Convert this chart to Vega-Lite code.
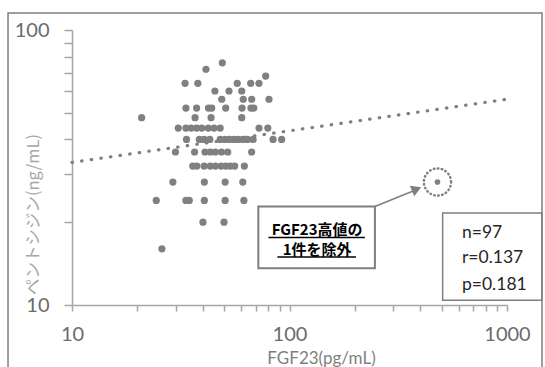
{
  "$schema": "https://vega.github.io/schema/vega-lite/v6.json",
  "width": 435,
  "height": 275,
  "autosize": {"type": "none"},
  "padding": {"left": 72, "top": 30, "right": 38, "bottom": 62},
  "background": "white",
  "config": {"view": {"stroke": null}},
  "datasets": {
    "points": [
      {"fgf23": 49.1, "pentosidine": 76},
      {"fgf23": 41.3, "pentosidine": 72},
      {"fgf23": 77.7, "pentosidine": 68},
      {"fgf23": 33.1, "pentosidine": 64}, {"fgf23": 37.9, "pentosidine": 64}, {"fgf23": 57.5, "pentosidine": 64}, {"fgf23": 66.3, "pentosidine": 64}, {"fgf23": 72.4, "pentosidine": 64},
      {"fgf23": 45.4, "pentosidine": 60}, {"fgf23": 52.7, "pentosidine": 60}, {"fgf23": 60.3, "pentosidine": 60},
      {"fgf23": 48.8, "pentosidine": 56}, {"fgf23": 61.3, "pentosidine": 56}, {"fgf23": 67, "pentosidine": 56}, {"fgf23": 80.5, "pentosidine": 56},
      {"fgf23": 33.4, "pentosidine": 52}, {"fgf23": 37.4, "pentosidine": 52}, {"fgf23": 42.4, "pentosidine": 52}, {"fgf23": 43.9, "pentosidine": 52}, {"fgf23": 50.9, "pentosidine": 52}, {"fgf23": 60.5, "pentosidine": 52}, {"fgf23": 66.5, "pentosidine": 52}, {"fgf23": 68.5, "pentosidine": 52},
      {"fgf23": 20.9, "pentosidine": 48}, {"fgf23": 36.8, "pentosidine": 48}, {"fgf23": 43.6, "pentosidine": 48}, {"fgf23": 60.3, "pentosidine": 48},
      {"fgf23": 30.8, "pentosidine": 44}, {"fgf23": 33.4, "pentosidine": 44}, {"fgf23": 35.3, "pentosidine": 44}, {"fgf23": 37.4, "pentosidine": 44}, {"fgf23": 39.5, "pentosidine": 44}, {"fgf23": 42.3, "pentosidine": 44}, {"fgf23": 45, "pentosidine": 44}, {"fgf23": 48, "pentosidine": 44}, {"fgf23": 72.4, "pentosidine": 44}, {"fgf23": 79.5, "pentosidine": 44},
      {"fgf23": 33.6, "pentosidine": 40}, {"fgf23": 38.5, "pentosidine": 40}, {"fgf23": 40.5, "pentosidine": 40}, {"fgf23": 43, "pentosidine": 40}, {"fgf23": 48, "pentosidine": 40}, {"fgf23": 50.5, "pentosidine": 40}, {"fgf23": 53, "pentosidine": 40}, {"fgf23": 55.5, "pentosidine": 40}, {"fgf23": 58, "pentosidine": 40}, {"fgf23": 61, "pentosidine": 40}, {"fgf23": 64, "pentosidine": 40}, {"fgf23": 68, "pentosidine": 40}, {"fgf23": 84, "pentosidine": 40}, {"fgf23": 92, "pentosidine": 40},
      {"fgf23": 29.9, "pentosidine": 36}, {"fgf23": 36.6, "pentosidine": 36}, {"fgf23": 40.9, "pentosidine": 36}, {"fgf23": 43.2, "pentosidine": 36}, {"fgf23": 45.6, "pentosidine": 36}, {"fgf23": 48.7, "pentosidine": 36}, {"fgf23": 52, "pentosidine": 36}, {"fgf23": 67, "pentosidine": 36},
      {"fgf23": 35.9, "pentosidine": 32}, {"fgf23": 37.5, "pentosidine": 32}, {"fgf23": 40.5, "pentosidine": 32}, {"fgf23": 43.2, "pentosidine": 32}, {"fgf23": 45.6, "pentosidine": 32}, {"fgf23": 48.5, "pentosidine": 32}, {"fgf23": 51, "pentosidine": 32}, {"fgf23": 53.5, "pentosidine": 32}, {"fgf23": 56, "pentosidine": 32}, {"fgf23": 62, "pentosidine": 32},
      {"fgf23": 29.1, "pentosidine": 28}, {"fgf23": 40.6, "pentosidine": 28}, {"fgf23": 50.6, "pentosidine": 28}, {"fgf23": 61, "pentosidine": 28},
      {"fgf23": 24.4, "pentosidine": 24}, {"fgf23": 33.4, "pentosidine": 24}, {"fgf23": 34.6, "pentosidine": 24}, {"fgf23": 40.6, "pentosidine": 24}, {"fgf23": 50.6, "pentosidine": 24}, {"fgf23": 61.7, "pentosidine": 24},
      {"fgf23": 40, "pentosidine": 20}, {"fgf23": 50, "pentosidine": 20},
      {"fgf23": 25.9, "pentosidine": 16}
    ],
    "trend": [
      {"fgf23": 10, "pentosidine": 33},
      {"fgf23": 1000, "pentosidine": 56}
    ],
    "excluded": [
      {"fgf23": 479, "pentosidine": 28}
    ],
    "one": [{}]
  },
  "layer": [
    {
      "data": {"name": "points"},
      "mark": {"type": "point", "shape": "circle", "filled": true, "size": 52, "color": "#808080", "opacity": 1},
      "encoding": {
        "x": {
          "field": "fgf23", "type": "quantitative",
          "scale": {"type": "log", "domain": [10, 1000], "nice": false},
          "axis": {
            "title": "FGF23(pg/mL)",
            "values": [10, 20, 30, 40, 50, 60, 70, 80, 90, 100, 200, 300, 400, 500, 600, 700, 800, 900, 1000],
            "format": "d",
            "labelExpr": "datum.value == 10 || datum.value == 100 || datum.value == 1000 ? datum.label : ''",
            "labelOverlap": false,
            "labelFlush": false,
            "grid": false,
            "domainColor": "#a6a6a6",
            "domainWidth": 1.5,
            "tickColor": "#a6a6a6",
            "tickWidth": 1.5,
            "tickSize": 6,
            "labelFont": "Lato",
            "labelFontSize": 20,
            "labelColor": "#6b6b6b",
            "labelPadding": 13,
            "titleFont": "Lato",
            "titleFontSize": 17,
            "titleFontWeight": "normal",
            "titleColor": "#7f7f7f",
            "titleX": 249,
            "titleY": 53,
            "titleBaseline": "middle"
          }
        },
        "y": {
          "field": "pentosidine", "type": "quantitative",
          "scale": {"type": "log", "domain": [10, 100], "nice": false},
          "axis": {
            "title": "ペントシジン(ng/mL)",
            "values": [10, 20, 30, 40, 50, 60, 70, 80, 90, 100],
            "format": "d",
            "labelExpr": "datum.value == 10 || datum.value == 100 ? datum.label : ''",
            "labelOverlap": false,
            "labelFlush": false,
            "grid": false,
            "domainColor": "#a6a6a6",
            "domainWidth": 1.5,
            "tickColor": "#a6a6a6",
            "tickWidth": 1.5,
            "tickSize": 8,
            "labelFont": "Lato",
            "labelFontSize": 20,
            "labelColor": "#6b6b6b",
            "labelPadding": 15,
            "titleFont": "Noto Sans CJK JP",
            "titleFontSize": 16.5,
            "titleFontWeight": "normal",
            "titleColor": "#a6a6a6",
            "titleAngle": 270,
            "titleAlign": "center",
            "titleBaseline": "middle",
            "titleX": -39,
            "titleY": 184
          }
        }
      }
    },
    {
      "data": {"name": "one"},
      "mark": {"type": "rect", "fill": null, "stroke": "#7f7f7f", "strokeWidth": 1.5},
      "encoding": {
        "x": {"datum": 5.08, "type": "quantitative", "scale": {"type": "log", "domain": [10, 1000], "nice": false}},
        "x2": {"datum": 1449},
        "y": {"datum": 115.3, "type": "quantitative", "scale": {"type": "log", "domain": [10, 100], "nice": false}},
        "y2": {"datum": 5.33}
      }
    },
    {
      "data": {"name": "trend"},
      "mark": {"type": "line", "color": "#7f7f7f", "strokeWidth": 3.2, "strokeCap": "round", "strokeDash": [0.5, 9.2]},
      "encoding": {
        "x": {"field": "fgf23", "type": "quantitative", "scale": {"type": "log", "domain": [10, 1000], "nice": false}},
        "y": {"field": "pentosidine", "type": "quantitative", "scale": {"type": "log", "domain": [10, 100], "nice": false}}
      }
    },
    {
      "data": {"name": "excluded"},
      "mark": {"type": "point", "shape": "circle", "filled": true, "size": 32, "color": "#808080", "opacity": 1},
      "encoding": {
        "x": {"field": "fgf23", "type": "quantitative", "scale": {"type": "log", "domain": [10, 1000], "nice": false}},
        "y": {"field": "pentosidine", "type": "quantitative", "scale": {"type": "log", "domain": [10, 100], "nice": false}}
      }
    },
    {
      "data": {"name": "excluded"},
      "mark": {"type": "point", "shape": "circle", "filled": false, "size": 740, "stroke": "#7f7f7f", "strokeWidth": 2.5, "strokeDash": [0.5, 3.5], "strokeCap": "round", "opacity": 1},
      "encoding": {
        "x": {"field": "fgf23", "type": "quantitative", "scale": {"type": "log", "domain": [10, 1000], "nice": false}},
        "y": {"field": "pentosidine", "type": "quantitative", "scale": {"type": "log", "domain": [10, 100], "nice": false}}
      }
    },
    {
      "data": {"name": "one"},
      "mark": {"type": "rule", "color": "#7f7f7f", "strokeWidth": 1.5},
      "encoding": {
        "x": {"datum": 247, "type": "quantitative", "scale": {"type": "log", "domain": [10, 1000], "nice": false}},
        "x2": {"datum": 385},
        "y": {"datum": 22.8, "type": "quantitative", "scale": {"type": "log", "domain": [10, 100], "nice": false}},
        "y2": {"datum": 26.3}
      }
    },
    {
      "data": {"name": "one"},
      "mark": {"type": "point", "shape": "triangle-right", "filled": true, "size": 130, "angle": 337, "color": "#7f7f7f", "opacity": 1},
      "encoding": {
        "x": {"datum": 384, "type": "quantitative", "scale": {"type": "log", "domain": [10, 1000], "nice": false}},
        "y": {"datum": 26.4, "type": "quantitative", "scale": {"type": "log", "domain": [10, 100], "nice": false}}
      }
    },
    {
      "data": {"name": "one"},
      "mark": {"type": "rect", "fill": "white", "stroke": "#7f7f7f", "strokeWidth": 2},
      "encoding": {
        "x": {"datum": 71.9, "type": "quantitative", "scale": {"type": "log", "domain": [10, 1000], "nice": false}},
        "x2": {"datum": 247},
        "y": {"datum": 22.8, "type": "quantitative", "scale": {"type": "log", "domain": [10, 100], "nice": false}},
        "y2": {"datum": 13.6}
      }
    },
    {
      "data": {"name": "one"},
      "mark": {"type": "text", "text": "FGF23高値の", "font": "Noto Sans CJK JP", "fontWeight": "bold", "fontSize": 15, "color": "#000000", "align": "center", "baseline": "middle"},
      "encoding": {
        "x": {"datum": 134, "type": "quantitative", "scale": {"type": "log", "domain": [10, 1000], "nice": false}},
        "y": {"datum": 18.8, "type": "quantitative", "scale": {"type": "log", "domain": [10, 100], "nice": false}}
      }
    },
    {
      "data": {"name": "one"},
      "mark": {"type": "text", "text": "1件を除外", "font": "Noto Sans CJK JP", "fontWeight": "bold", "fontSize": 15, "color": "#000000", "align": "center", "baseline": "middle"},
      "encoding": {
        "x": {"datum": 134, "type": "quantitative", "scale": {"type": "log", "domain": [10, 1000], "nice": false}},
        "y": {"datum": 15.8, "type": "quantitative", "scale": {"type": "log", "domain": [10, 100], "nice": false}}
      }
    },
    {
      "data": {"name": "one"},
      "mark": {"type": "rule", "color": "#000000", "strokeWidth": 1.5},
      "encoding": {
        "x": {"datum": 80, "type": "quantitative", "scale": {"type": "log", "domain": [10, 1000], "nice": false}},
        "x2": {"datum": 222},
        "y": {"datum": 17.6, "type": "quantitative", "scale": {"type": "log", "domain": [10, 100], "nice": false}}
      }
    },
    {
      "data": {"name": "one"},
      "mark": {"type": "rule", "color": "#000000", "strokeWidth": 1.5},
      "encoding": {
        "x": {"datum": 88, "type": "quantitative", "scale": {"type": "log", "domain": [10, 1000], "nice": false}},
        "x2": {"datum": 202},
        "y": {"datum": 14.95, "type": "quantitative", "scale": {"type": "log", "domain": [10, 100], "nice": false}}
      }
    },
    {
      "data": {"name": "one"},
      "mark": {"type": "rect", "fill": "white", "stroke": "#7f7f7f", "strokeWidth": 1.5},
      "encoding": {
        "x": {"datum": 506, "type": "quantitative", "scale": {"type": "log", "domain": [10, 1000], "nice": false}},
        "x2": {"datum": 1445},
        "y": {"datum": 21.6, "type": "quantitative", "scale": {"type": "log", "domain": [10, 100], "nice": false}},
        "y2": {"datum": 10.4}
      }
    },
    {
      "data": {"name": "one"},
      "mark": {"type": "text", "text": "n=97", "font": "Lato", "fontSize": 17.5, "color": "#262626", "align": "left", "baseline": "middle"},
      "encoding": {
        "x": {"datum": 621, "type": "quantitative", "scale": {"type": "log", "domain": [10, 1000], "nice": false}},
        "y": {"datum": 18.3, "type": "quantitative", "scale": {"type": "log", "domain": [10, 100], "nice": false}}
      }
    },
    {
      "data": {"name": "one"},
      "mark": {"type": "text", "text": "r=0.137", "font": "Lato", "fontSize": 17.5, "color": "#262626", "align": "left", "baseline": "middle"},
      "encoding": {
        "x": {"datum": 621, "type": "quantitative", "scale": {"type": "log", "domain": [10, 1000], "nice": false}},
        "y": {"datum": 14.8, "type": "quantitative", "scale": {"type": "log", "domain": [10, 100], "nice": false}}
      }
    },
    {
      "data": {"name": "one"},
      "mark": {"type": "text", "text": "p=0.181", "font": "Lato", "fontSize": 17.5, "color": "#262626", "align": "left", "baseline": "middle"},
      "encoding": {
        "x": {"datum": 621, "type": "quantitative", "scale": {"type": "log", "domain": [10, 1000], "nice": false}},
        "y": {"datum": 11.8, "type": "quantitative", "scale": {"type": "log", "domain": [10, 100], "nice": false}}
      }
    }
  ]
}
